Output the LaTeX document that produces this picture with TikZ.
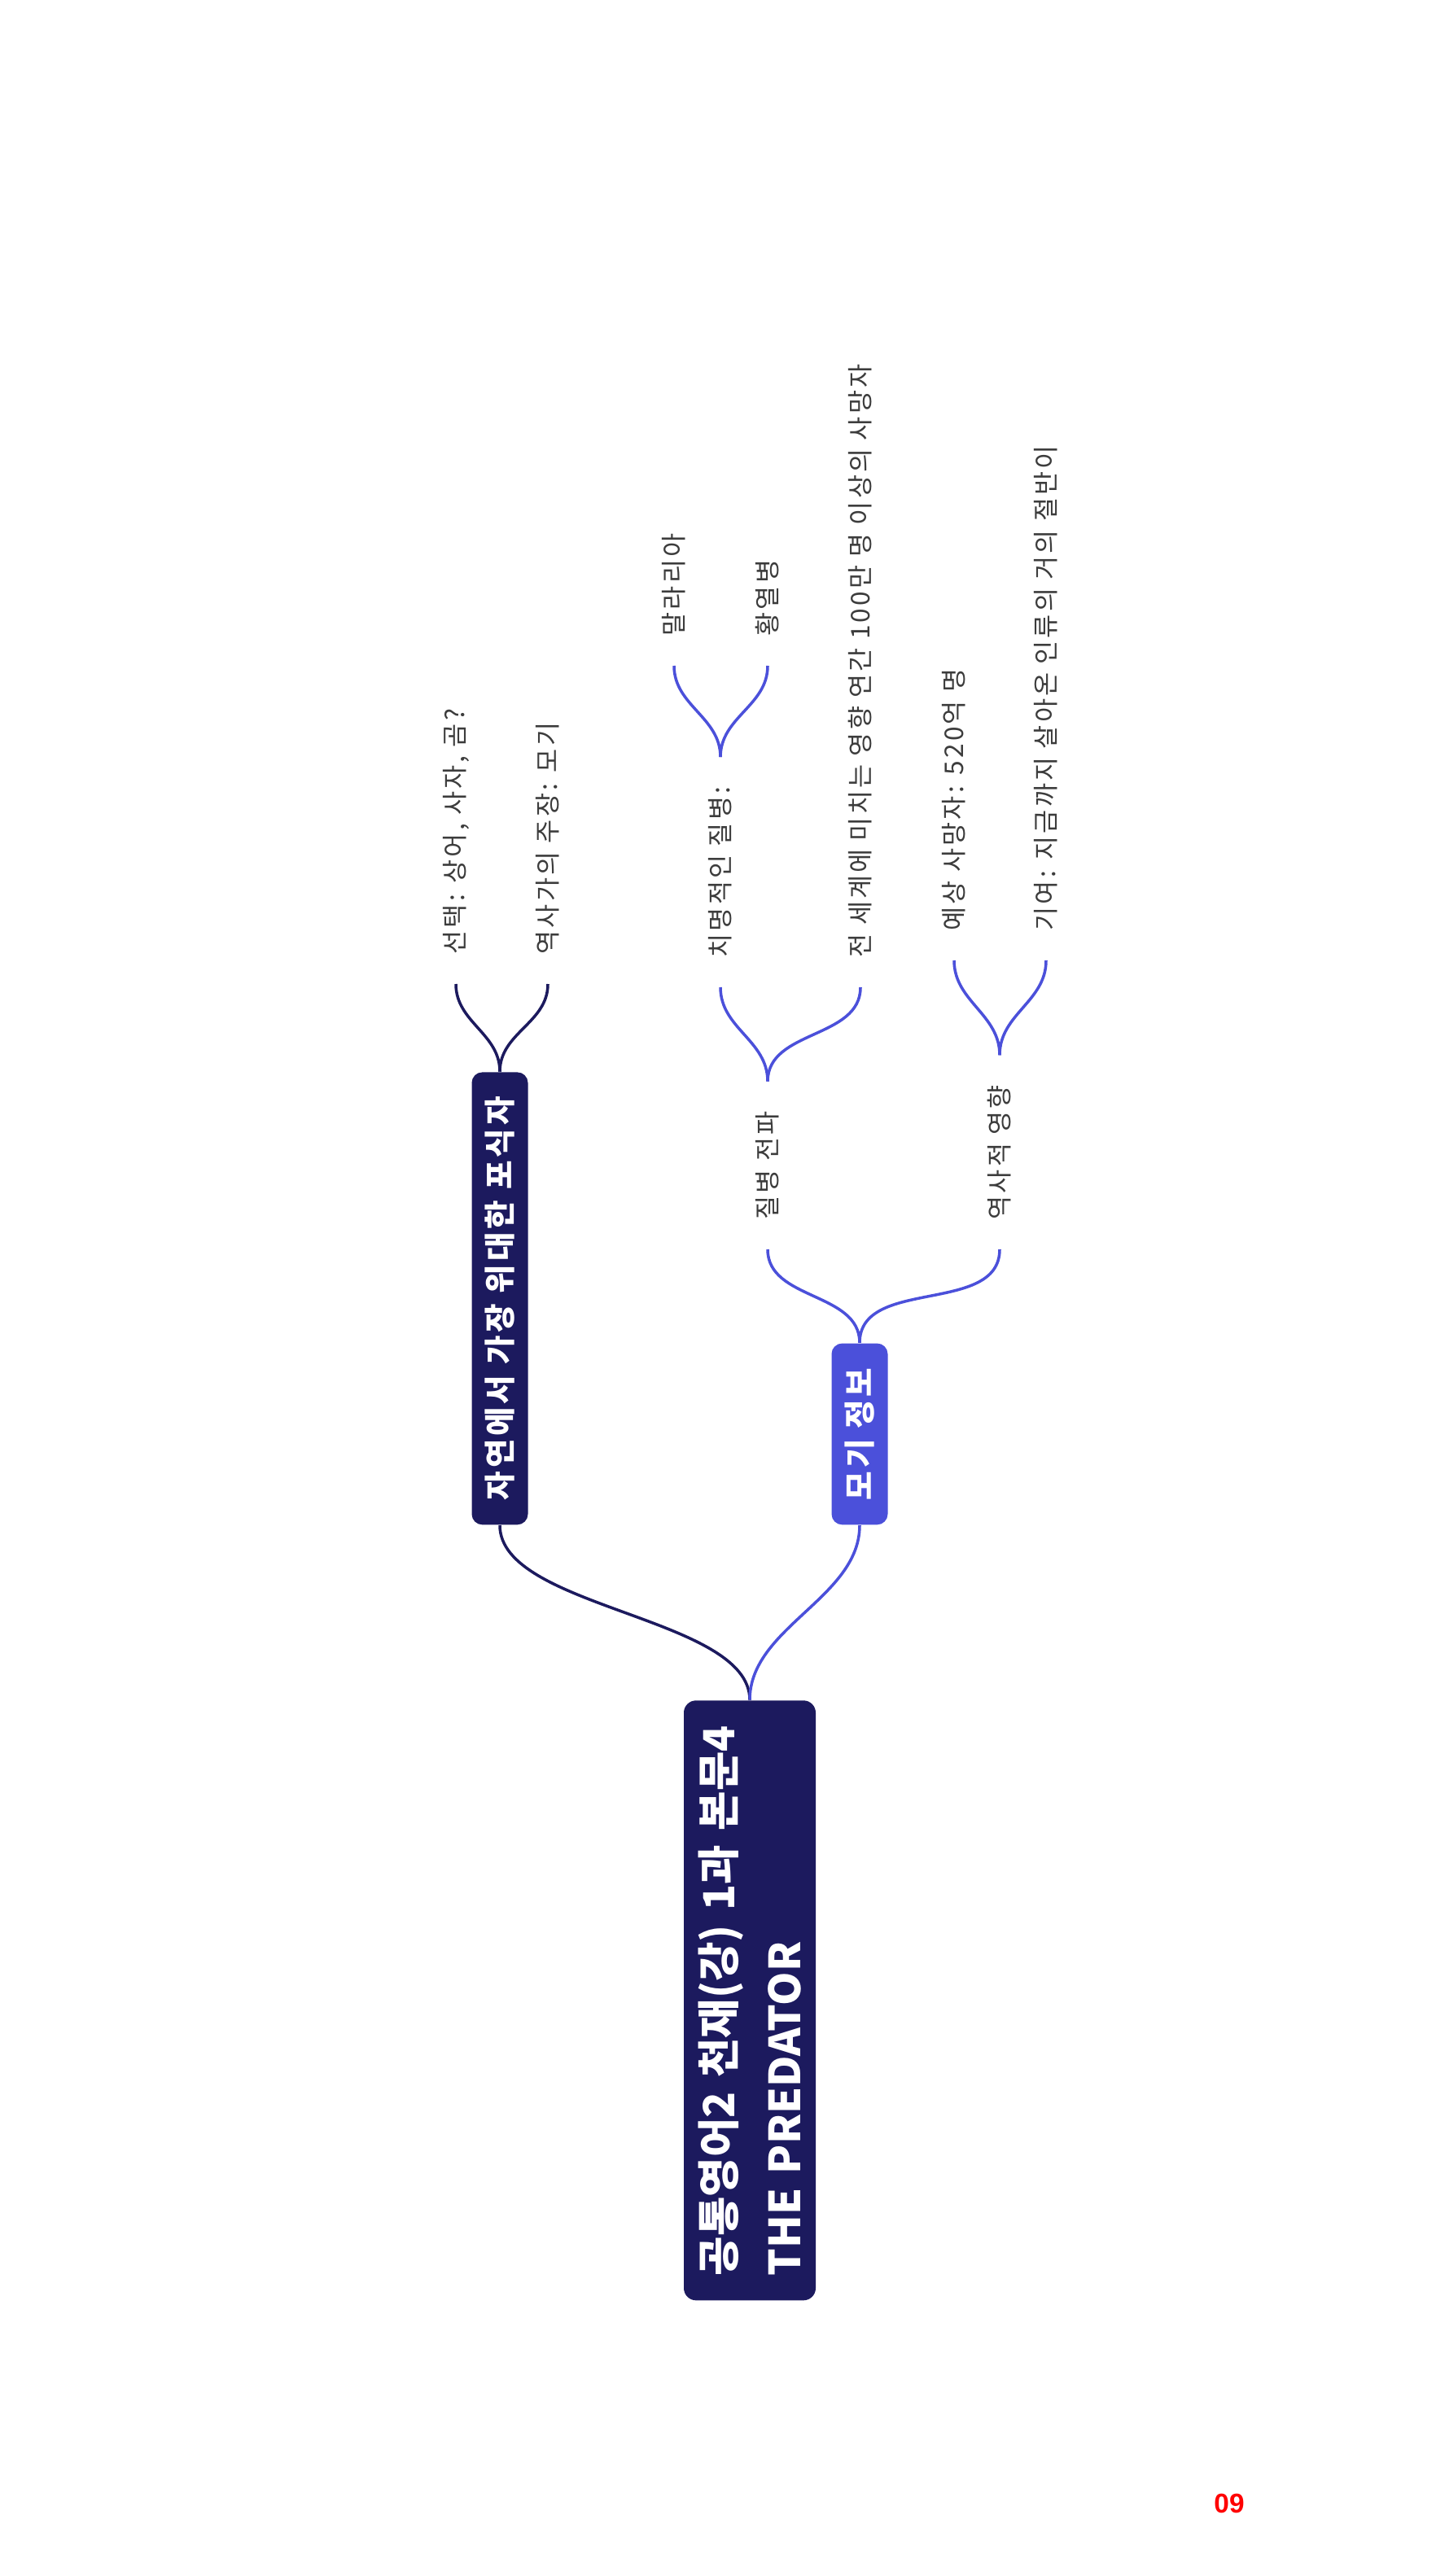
\documentclass[tikz,border=0pt]{standalone}
\usepackage{fontspec}
\setmainfont{Noto Sans CJK KR}
\newfontfamily\spacedfont{Noto Sans CJK KR}[LetterSpace=10]
\newfontfamily\pagefont{Liberation Sans}
\definecolor{navy}{HTML}{1C1A5E}
\definecolor{mblue}{HTML}{4B50DA}
\definecolor{leafgray}{HTML}{3C3C3C}

\begin{document}
\begin{tikzpicture}[
	rootbox/.style={fill=navy, rounded corners=0.15cm, rotate=90, anchor=west, text=white,
		font=\fontsize{15}{23}\selectfont\bfseries, align=left, text width=6.77cm,
		inner xsep=0.3cm, minimum height=1.62cm},
	topicbox/.style={fill=#1, rounded corners=0.13cm, rotate=90, anchor=west, text=white,
		font=\spacedfont\fontsize{11}{13}\selectfont\bfseries, inner xsep=0.3cm, minimum height=0.69cm},
	leaf/.style={rotate=90, anchor=west, text=leafgray, font=\spacedfont\fontsize{9}{11}\selectfont,
		inner xsep=0.36cm, inner ysep=0.05cm},
	navyline/.style={draw=navy, line width=1pt},
	blueline/.style={draw=mblue, line width=1pt},
	sweep/.style={out=90, in=-90},
]
	\useasboundingbox (0,0) rectangle (17.63,-31.65);
	%Noeuds principaux
	\node[rootbox] (root) at (9.21,-28.27) {공통영어2 천재(강) 1과 본문4\\THE PREDATOR};
	\node[topicbox=navy] (nature) at (6.14,-18.74) {자연에서 가장 위대한 포식자};
	\node[topicbox=mblue] (mosq) at (10.56,-18.74) {모기 정보};
	%Feuilles
	\node[leaf] (choice) at (5.60,-12.09) {선택: 상어, 사자, 곰?};
	\node[leaf] (claim) at (6.73,-12.09) {역사가의 주장: 모기};
	\node[leaf] (spread) at (9.43,-15.35) {질병 전파};
	\node[leaf] (impact) at (12.28,-15.35) {역사적 영향};
	\node[leaf] (deadly) at (8.85,-12.13) {치명적인 질병:};
	\node[leaf] (world) at (10.57,-12.13) {전 세계에 미치는 영향 연간 100만 명 이상의 사망자};
	\node[leaf] (toll) at (11.72,-11.80) {예상 사망자: 520억 명};
	\node[leaf] (share) at (12.85,-11.80) {기여: 지금까지 살아온 인류의 거의 절반이};
	\node[leaf] (malaria) at (8.28,-8.18) {말라리아};
	\node[leaf] (yellow) at (9.43,-8.18) {황열병};
	\node[text=red, font=\pagefont\bfseries\fontsize{9.5}{11}\selectfont] (page) at (15.10,-30.76) {09};
	%Branches
	\draw[navyline] (root.east) to[sweep, looseness=0.7] (nature.west);
	\draw[blueline] (root.east) to[sweep, looseness=0.9] (mosq.west);
	\draw[navyline] (nature.east) to[sweep] (choice.west);
	\draw[navyline] (nature.east) to[sweep] (claim.west);
	\draw[blueline] (mosq.east) to[sweep] (spread.west);
	\draw[blueline] (mosq.east) to[sweep] (impact.west);
	\draw[blueline] (spread.east) to[sweep] (deadly.west);
	\draw[blueline] (spread.east) to[sweep] (world.west);
	\draw[blueline] (impact.east) to[sweep] (toll.west);
	\draw[blueline] (impact.east) to[sweep] (share.west);
	\draw[blueline] (deadly.east) to[sweep] (malaria.west);
	\draw[blueline] (deadly.east) to[sweep] (yellow.west);
\end{tikzpicture}
\end{document}
